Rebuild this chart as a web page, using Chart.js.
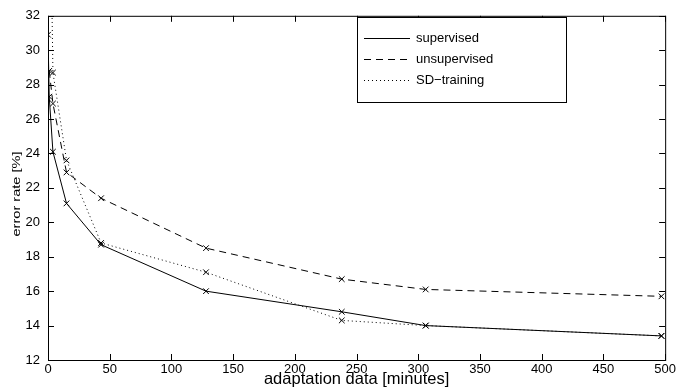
<!DOCTYPE html>
<html>
<head>
<meta charset="utf-8">
<script src="https://cdn.jsdelivr.net/npm/chart.js@4"></script>
<style>
  html, body { margin: 0; padding: 0; background: #fff; }
  #wrap { width: 678px; height: 389px; }
</style>
</head>
<body>
<div id="wrap"><canvas id="chart"></canvas></div>
<script>
// values (minutes -> error rate %)
const supMinutes = [0, 1, 4, 15, 43, 128, 238, 306, 497];
const supError = [30.9, 27.3, 24.1, 21.1, 18.7, 16.0, 14.8, 14.0, 13.4];

const unsupMinutes = [1, 4, 15, 43, 128, 238, 306, 497];
const unsupError = [28.8, 26.9, 22.9, 21.4, 18.5, 16.7, 16.1, 15.7];

const sdMinutes = [3, 4, 15, 43, 128, 238, 306, 497];
const sdError = [33.5, 28.7, 23.6, 18.8, 17.1, 14.3, 14.0, 13.4];

const xTicks = [0, 50, 100, 150, 200, 250, 300, 350, 400, 450, 500];
const yTicks = [12, 14, 16, 18, 20, 22, 24, 26, 28, 30, 32];

const FONT = 'Liberation Sans, Arial, Helvetica, sans-serif';

function toPoints(xs, ys) {
  return xs.map((x, i) => ({ x, y: ys[i] }));
}

function series(label, xs, ys, dash) {
  return {
    label,
    data: toPoints(xs, ys),
    borderColor: '#000',
    backgroundColor: '#000',
    borderWidth: 1,
    borderDash: dash,
    pointStyle: 'crossRot',
    pointRadius: 4,
    pointBorderWidth: 1,
    pointBorderColor: '#000',
    tension: 0,
    fill: false
  };
}

// box with inward ticks, MATLAB style
const boxTicks = {
  id: 'boxTicks',
  afterDraw(chart) {
    const { ctx, chartArea: a, scales: { x, y } } = chart;
    ctx.save();
    ctx.strokeStyle = '#000';
    ctx.lineWidth = 1;
    ctx.strokeRect(a.left + 0.5, a.top + 0.5, a.right - a.left, a.bottom - a.top);
    const len = 6;
    ctx.beginPath();
    xTicks.forEach(v => {
      const px = Math.round(x.getPixelForValue(v)) + 0.5;
      ctx.moveTo(px, a.bottom); ctx.lineTo(px, a.bottom - len);
      ctx.moveTo(px, a.top); ctx.lineTo(px, a.top + len);
    });
    yTicks.forEach(v => {
      const py = Math.round(y.getPixelForValue(v)) + 0.5;
      ctx.moveTo(a.left, py); ctx.lineTo(a.left + len, py);
      ctx.moveTo(a.right, py); ctx.lineTo(a.right - len, py);
    });
    ctx.stroke();

    // y axis title, narrow as in the original
    const yTitle = 'error rate [%]';
    ctx.font = '11px ' + FONT;
    const w = ctx.measureText(yTitle).width;
    ctx.translate(16.5, 194);
    ctx.rotate(-Math.PI / 2);
    ctx.scale(85 / w, 1);
    ctx.fillStyle = '#000';
    ctx.textAlign = 'center';
    ctx.textBaseline = 'middle';
    ctx.fillText(yTitle, 0, 0);
    ctx.restore();
  }
};

// legend box in the upper right of the plot
const boxLegend = {
  id: 'boxLegend',
  afterDraw(chart) {
    const { ctx } = chart;
    const left = 357, top = 17, w = 209, h = 85;
    ctx.save();
    ctx.fillStyle = '#fff';
    ctx.fillRect(left, top, w, h);
    ctx.strokeStyle = '#000';
    ctx.lineWidth = 1;
    ctx.strokeRect(left + 0.5, top + 0.5, w, h);
    ctx.font = '13px ' + FONT;
    ctx.textBaseline = 'middle';
    chart.data.datasets.forEach((ds, i) => {
      const yy = top + 21.5 + i * 21;
      ctx.setLineDash(ds.borderDash || []);
      ctx.beginPath();
      ctx.moveTo(364, yy);
      ctx.lineTo(410, yy);
      ctx.stroke();
      ctx.setLineDash([]);
      ctx.fillStyle = '#000';
      ctx.fillText(ds.label, 416, yy);
    });
    ctx.restore();
  }
};

new Chart(document.getElementById('chart'), {
  type: 'line',
  data: {
    datasets: [
      series('supervised', supMinutes, supError, []),
      series('unsupervised', unsupMinutes, unsupError, [7, 5]),
      series('SD\u2212training', sdMinutes, sdError, [1, 3])
    ]
  },
  options: {
    responsive: true,
    maintainAspectRatio: false,
    animation: false,
    layout: { padding: { top: 11, right: 12, left: 0, bottom: 0 } },
    plugins: {
      legend: { display: false },
      tooltip: { enabled: false }
    },
    scales: {
      x: {
        type: 'linear',
        min: 0,
        max: 500,
        afterBuildTicks: s => { s.ticks = xTicks.map(v => ({ value: v })); },
        afterFit: s => { s.height = 29; },
        grid: { display: false, drawTicks: false },
        border: { display: false },
        ticks: { color: '#000', font: { family: FONT, size: 13 }, padding: 2, maxRotation: 0 },
        title: {
          display: true,
          text: 'adaptation data [minutes]',
          color: '#000',
          font: { family: FONT, size: 16.5, lineHeight: 1 },
          padding: { top: 0, bottom: 1 }
        }
      },
      y: {
        type: 'linear',
        min: 12,
        max: 32,
        afterBuildTicks: s => { s.ticks = yTicks.map(v => ({ value: v })); },
        afterFit: s => { s.width = 48; },
        grid: { display: false, drawTicks: false },
        border: { display: false },
        ticks: { color: '#000', font: { family: FONT, size: 13 }, padding: 8 }
      }
    }
  },
  plugins: [boxTicks, boxLegend]
});
</script>
</body>
</html>
